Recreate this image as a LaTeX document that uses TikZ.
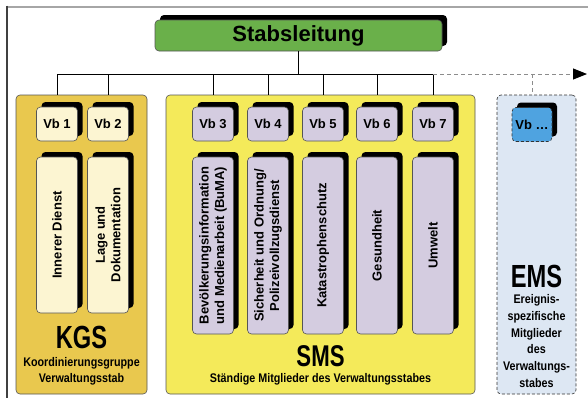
\documentclass[tikz,border=0pt]{standalone}
\usepackage{fontspec}
\setmainfont{Liberation Sans}
\newfontfamily\condfont{Liberation Sans}[FakeStretch=0.86]
\newfontfamily\bigcondfont{Liberation Sans}[FakeStretch=0.74]
\usetikzlibrary{shadows,arrows.meta}
\definecolor{slgreen}{HTML}{6AB04A}
\definecolor{kgsfill}{HTML}{E9C84E}
\definecolor{kgsinner}{HTML}{FCF5D2}
\definecolor{smsfill}{HTML}{F4EA5A}
\definecolor{smsinner}{HTML}{D4CCE0}
\definecolor{emsfill}{HTML}{DDE7F3}
\definecolor{emsvbfill}{HTML}{4FA3E0}
\definecolor{edge}{HTML}{555555}
\tikzset{
  shadowed/.style={drop shadow={shadow xshift=5pt,shadow yshift=5pt,fill=black,opacity=1}},
  box/.style={rectangle,rounded corners=4pt,draw=edge,line width=0.6pt,inner sep=0pt},
  slbox/.style={box,shadowed,fill=slgreen,minimum width=287pt,minimum height=31pt,
    font=\bfseries\fontsize{22}{24}\selectfont},
  container/.style={box,minimum height=299pt},
  vbbox/.style={box,shadowed,minimum width=41pt,minimum height=34pt,
    font=\bfseries\fontsize{13}{15}\selectfont},
  tallbox/.style={box,shadowed,minimum width=41pt},
  talltext/.style={rotate=90,align=center,inner sep=0pt,
    font=\bfseries\fontsize{13}{15.5}\selectfont},
  bigtext/.style={inner sep=0pt,text height=23pt,text depth=0pt,
    font=\bigcondfont\bfseries\fontsize{32}{34}\selectfont},
  subtext/.style={inner sep=0pt,align=center,font=\condfont\bfseries\fontsize{12.5}{16}\selectfont},
  conn/.style={line width=1pt,black},
  dashconn/.style={line width=1pt,black!45,dash pattern=on 4pt off 3pt}
}
\begin{document}
\begin{tikzpicture}[x=1pt,y=-1pt]
\useasboundingbox (0,0) rectangle (588,397);
% frame
\draw[line width=2pt,black!35] (7,6.5) -- (590,6.5);
\draw[line width=1.5pt,black!75] (7,5.5) -- (7,399);

% containers
\node[container,fill=kgsfill,minimum width=131pt] (kgs) at (81.5,244.5) {};
\node[container,fill=smsfill,minimum width=309pt] (sms) at (320.5,244.5) {};
\node[container,fill=emsfill,minimum width=79pt,dashed,dash pattern=on 3pt off 2pt,draw=black!80] (ems) at (536.5,244.5) {};

% top
\node[slbox] (sl) at (298.5,35.5) {Stabsleitung};

% Vb boxes
\node[vbbox,fill=kgsinner] (vb1) at (57,124) {Vb 1};
\node[vbbox,fill=kgsinner] (vb2) at (108,124) {Vb 2};
\node[vbbox,fill=smsinner] (vb3) at (213,124) {Vb 3};
\node[vbbox,fill=smsinner] (vb4) at (268,124) {Vb 4};
\node[vbbox,fill=smsinner] (vb5) at (323,124) {Vb 5};
\node[vbbox,fill=smsinner] (vb6) at (377,124) {Vb 6};
\node[vbbox,fill=smsinner] (vb7) at (433,124) {Vb 7};
\node[vbbox,fill=emsvbfill,minimum width=40pt,dashed,dash pattern=on 3pt off 2pt,draw=black!80] (vbx) at (532,124.5) {Vb \dots};

% tall boxes
\node[tallbox,fill=kgsinner,minimum height=156pt] (t1) at (57,235) {};
\node[tallbox,fill=kgsinner,minimum height=156pt] (t2) at (108,235) {};
\node[tallbox,fill=smsinner,minimum height=177pt] (t3) at (213,245.5) {};
\node[tallbox,fill=smsinner,minimum height=177pt] (t4) at (268,245.5) {};
\node[tallbox,fill=smsinner,minimum height=177pt] (t5) at (323,245.5) {};
\node[tallbox,fill=smsinner,minimum height=177pt] (t6) at (377,245.5) {};
\node[tallbox,fill=smsinner,minimum height=177pt] (t7) at (433,245.5) {};
\node[talltext] (t1l) at (t1) {Innerer Dienst};
\node[talltext] (t2l) at (t2) {Lage und\\Dokumentation};
\node[talltext] (t3l) at (t3) {Bevölkerungsinformation\\und Medienarbeit (BuMA)};
\node[talltext] (t4l) at (t4) {Sicherheit und Ordnung/\\Polizeivollzugsdienst};
\node[talltext] (t5l) at (t5) {Katastrophenschutz};
\node[talltext] (t6l) at (t6) {Gesundheit};
\node[talltext] (t7l) at (t7) {Umwelt};

% group labels
\node[bigtext] (kgsl) at (81.5,337) {KGS};
\node[subtext] (kgss) at (81.5,371) {Koordinierungsgruppe\\Verwaltungsstab};
\node[bigtext,text height=21.5pt,font=\bigcondfont\bfseries\fontsize{30}{32}\selectfont] (smsl) at (320.5,355.5) {SMS};
\node[subtext] (smss) at (320.5,379) {Ständige Mitglieder des Verwaltungsstabes};
\node[bigtext] (emsl) at (536.5,276) {EMS};
\node[subtext,font=\condfont\bfseries\fontsize{12.5}{16.8}\selectfont] (emss) at (536.5,341) {Ereignis-\\spezifische\\Mitglieder\\des\\Verwaltungs-\\stabes};

% connectors
\coordinate (hub) at (298.5,74);
\coordinate (arrowend) at (587,74);
\draw[conn] (sl.south) -- (hub);
\draw[conn] (vb1 |- hub) -- (vb7 |- hub);
\foreach \v in {vb1,vb2}{\draw[conn] (\v |- hub) -- (\v |- kgs.north);}
\foreach \v in {vb3,vb4,vb5,vb6,vb7}{\draw[conn] (\v |- hub) -- (\v |- sms.north);}
\draw[dashconn,-{Triangle[length=14pt,width=11pt,black]}] (vb7 |- hub) -- (arrowend);
\draw[dashconn] (vbx |- hub) -- (vbx |- ems.north);
\end{tikzpicture}
\end{document}
